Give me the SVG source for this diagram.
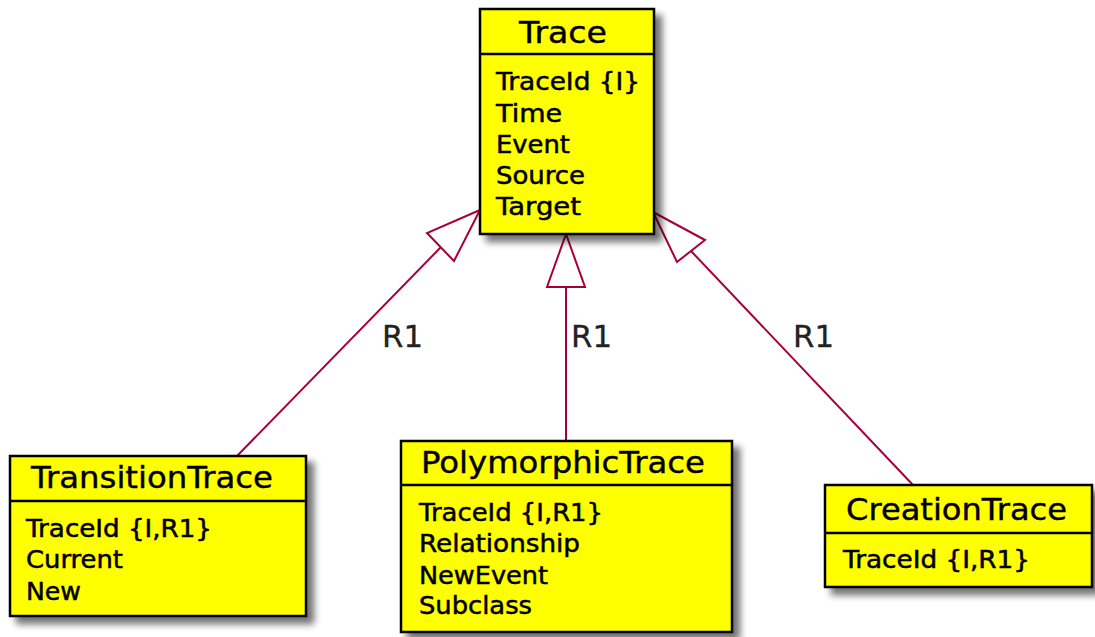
<svg xmlns="http://www.w3.org/2000/svg" width="1095" height="637" viewBox="0 0 1095 637">
<defs>
<filter id="sh" x="-10%" y="-10%" width="130%" height="130%">
<feGaussianBlur in="SourceAlpha" stdDeviation="3.5"/>
<feOffset dx="7" dy="7" result="b"/>
<feComponentTransfer><feFuncA type="linear" slope="0.55"/></feComponentTransfer>
<feMerge><feMergeNode/><feMergeNode in="SourceGraphic"/></feMerge>
</filter>
<style>
.box{fill:#FFFF00;stroke:#000;stroke-width:2.5}
.sep{stroke:#000;stroke-width:2.5}
.title{font-family:"DejaVu Sans",sans-serif;font-size:30px;fill:#000;stroke:#000;stroke-width:0.4}
.attr{font-family:"DejaVu Sans",sans-serif;font-size:24px;fill:#000;stroke:#000;stroke-width:0.5}
.lbl{font-family:"DejaVu Sans",sans-serif;font-size:30px;fill:#222;stroke:#222;stroke-width:0.3}
.edge{stroke:#A80036;stroke-width:2;fill:none}
.head{stroke:#A80036;stroke-width:2;fill:#fff}
</style>
</defs>
<rect width="1095" height="637" fill="#fff"/>
<g id="connectors">
<line class="edge" x1="441" y1="247" x2="237" y2="456"/>
<polygon class="head" points="480,210 427,233 454,261"/>
<line class="edge" x1="566" y1="287" x2="566" y2="441"/>
<polygon class="head" points="566,234 547,287 585,287"/>
<line class="edge" x1="691" y1="251" x2="913" y2="485"/>
<polygon class="head" points="653,212 705,240 677,262"/>
<text class="lbl" x="382" y="347" textLength="41" lengthAdjust="spacingAndGlyphs">R1</text>
<text class="lbl" x="571" y="347" textLength="41" lengthAdjust="spacingAndGlyphs">R1</text>
<text class="lbl" x="793" y="347" textLength="41" lengthAdjust="spacingAndGlyphs">R1</text>
</g>
<g id="Trace">
<rect class="box" x="480" y="9" width="174" height="225" filter="url(#sh)"/>
<line class="sep" x1="480" y1="54" x2="654" y2="54"/>
<text class="title" x="519" y="43" textLength="88" lengthAdjust="spacingAndGlyphs">Trace</text>
<text class="attr" x="496" y="90" textLength="144" lengthAdjust="spacingAndGlyphs">TraceId {I}</text>
<text class="attr" x="496" y="122" textLength="66" lengthAdjust="spacingAndGlyphs">Time</text>
<text class="attr" x="496" y="153" textLength="74" lengthAdjust="spacingAndGlyphs">Event</text>
<text class="attr" x="496" y="184" textLength="89" lengthAdjust="spacingAndGlyphs">Source</text>
<text class="attr" x="496" y="215" textLength="85" lengthAdjust="spacingAndGlyphs">Target</text>
</g>
<g id="TransitionTrace">
<rect class="box" x="10" y="456" width="296" height="160" filter="url(#sh)"/>
<line class="sep" x1="10" y1="501" x2="306" y2="501"/>
<text class="title" x="31" y="488" textLength="242" lengthAdjust="spacingAndGlyphs">TransitionTrace</text>
<text class="attr" x="26" y="537" textLength="186" lengthAdjust="spacingAndGlyphs">TraceId {I,R1}</text>
<text class="attr" x="26" y="568" textLength="97" lengthAdjust="spacingAndGlyphs">Current</text>
<text class="attr" x="26" y="600" textLength="55" lengthAdjust="spacingAndGlyphs">New</text>
</g>
<g id="PolymorphicTrace">
<rect class="box" x="401" y="441" width="331" height="191" filter="url(#sh)"/>
<line class="sep" x1="401" y1="485" x2="732" y2="485"/>
<text class="title" x="421" y="473" textLength="284" lengthAdjust="spacingAndGlyphs">PolymorphicTrace</text>
<text class="attr" x="419" y="521" textLength="184" lengthAdjust="spacingAndGlyphs">TraceId {I,R1}</text>
<text class="attr" x="419" y="552" textLength="161" lengthAdjust="spacingAndGlyphs">Relationship</text>
<text class="attr" x="419" y="584" textLength="129" lengthAdjust="spacingAndGlyphs">NewEvent</text>
<text class="attr" x="419" y="614" textLength="113" lengthAdjust="spacingAndGlyphs">Subclass</text>
</g>
<g id="CreationTrace">
<rect class="box" x="825" y="485" width="267" height="102" filter="url(#sh)"/>
<line class="sep" x1="825" y1="533" x2="1092" y2="533"/>
<text class="title" x="846" y="520" textLength="221" lengthAdjust="spacingAndGlyphs">CreationTrace</text>
<text class="attr" x="843" y="568" textLength="187" lengthAdjust="spacingAndGlyphs">TraceId {I,R1}</text>
</g>
</svg>
